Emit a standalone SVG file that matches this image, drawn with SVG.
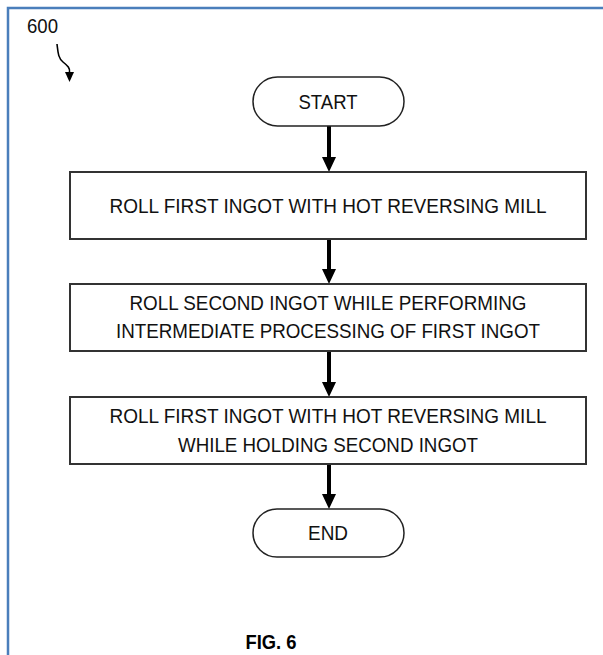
<svg xmlns="http://www.w3.org/2000/svg" width="603" height="655" viewBox="0 0 603 655">
  <style>
    .frame { fill: none; stroke: #4a7ebb; stroke-width: 2.5; }
    .box { fill: #ffffff; stroke: #333333; stroke-width: 2; }
    .term { fill: #ffffff; stroke: #222222; stroke-width: 1.5; }
    .lbl { font-family: "Liberation Sans", Arial, sans-serif; font-size: 21px; fill: #111111; text-anchor: middle; }
    .flow { stroke: #000000; stroke-width: 4; fill: none; }
    .ref { font-family: "Liberation Sans", Arial, sans-serif; font-size: 21px; fill: #111111; }
    .fig { font-family: "Liberation Sans", Arial, sans-serif; font-size: 21px; font-weight: bold; fill: #000000; text-anchor: middle; }
  </style>

  <rect width="603" height="655" fill="#ffffff"/>
  <!-- page frame (open to the right and bottom) -->
  <path class="frame" d="M8,700 L8,8 L700,8"/>

  <!-- figure reference -->
  <g id="ref600">
    <text class="ref" x="27" y="33" textLength="31" lengthAdjust="spacingAndGlyphs">600</text>
    <path d="M57,44 C58,52 58,58 63,62 C68,66 70,68 69.5,72" fill="none" stroke="#000000" stroke-width="1.6"/>
    <path d="M65,72 L74,72 L69.5,82 Z" fill="#000000"/>
  </g>

  <!-- connectors -->
  <g id="connectors">
    <line class="flow" x1="329" y1="126" x2="329" y2="158"/>
    <path d="M322,157 L336,157 L329,172 Z"/>
    <line class="flow" x1="329" y1="239" x2="329" y2="270"/>
    <path d="M322,269 L336,269 L329,284 Z"/>
    <line class="flow" x1="329" y1="351" x2="329" y2="383"/>
    <path d="M322,382 L336,382 L329,397 Z"/>
    <line class="flow" x1="329" y1="464" x2="329" y2="495"/>
    <path d="M322,494 L336,494 L329,509 Z"/>
  </g>

  <g id="start">
    <rect class="term" x="253" y="77" width="151" height="49" rx="24.5" ry="24.5"/>
    <text class="lbl" x="328" y="109" textLength="59" lengthAdjust="spacingAndGlyphs">START</text>
  </g>

  <g id="step1">
    <rect class="box" x="70" y="172" width="516" height="67"/>
    <text class="lbl" x="328" y="213" textLength="437" lengthAdjust="spacingAndGlyphs">ROLL FIRST INGOT WITH HOT REVERSING MILL</text>
  </g>

  <g id="step2">
    <rect class="box" x="70" y="284" width="516" height="67"/>
    <text class="lbl" x="328" y="310" textLength="397" lengthAdjust="spacingAndGlyphs">ROLL SECOND INGOT WHILE PERFORMING</text>
    <text class="lbl" x="328" y="338" textLength="424" lengthAdjust="spacingAndGlyphs">INTERMEDIATE PROCESSING OF FIRST INGOT</text>
  </g>

  <g id="step3">
    <rect class="box" x="70" y="397" width="516" height="67"/>
    <text class="lbl" x="328" y="423" textLength="437" lengthAdjust="spacingAndGlyphs">ROLL FIRST INGOT WITH HOT REVERSING MILL</text>
    <text class="lbl" x="328" y="452" textLength="300" lengthAdjust="spacingAndGlyphs">WHILE HOLDING SECOND INGOT</text>
  </g>

  <g id="end">
    <rect class="term" x="253" y="509" width="151" height="48" rx="24" ry="24"/>
    <text class="lbl" x="328" y="540" textLength="40" lengthAdjust="spacingAndGlyphs">END</text>
  </g>

  <text class="fig" x="271" y="649" textLength="51" lengthAdjust="spacingAndGlyphs">FIG. 6</text>
</svg>
